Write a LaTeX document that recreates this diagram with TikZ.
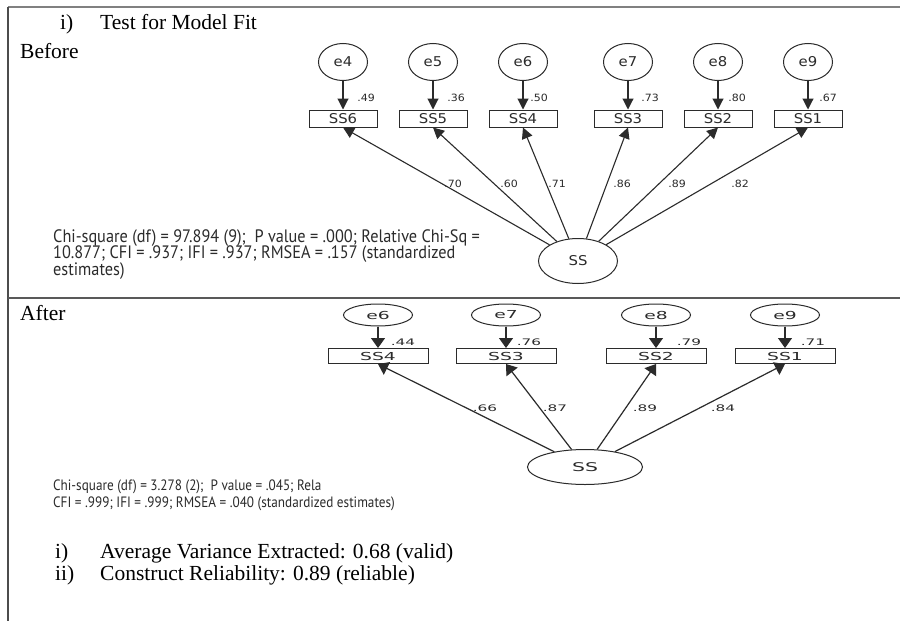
\documentclass[tikz,border=0pt]{standalone}
\usepackage{fontspec}
\setmainfont{Liberation Serif}
\newfontfamily\semfont[FakeStretch=1.1]{DejaVu Sans}
\newfontfamily\semwide[FakeStretch=1.7]{DejaVu Sans}
\newfontfamily\fitfont[FakeStretch=0.905]{PT Sans}
\newfontfamily\fitnarrow[FakeStretch=0.88]{PT Sans}
\usetikzlibrary{arrows.meta,shapes.geometric}
\definecolor{ink}{HTML}{2B2B2B}
\definecolor{rule}{HTML}{808080}
\begin{document}
\begin{tikzpicture}[x=1pt,y=-1pt,
  heading/.style={anchor=base west,inner sep=0pt,font=\fontsize{21.5}{24}\selectfont,text=black},
  fitline/.style={anchor=base west,inner sep=0pt,font=\fitfont\fontsize{18}{18}\selectfont,text=ink},
  fitsmall/.style={anchor=base west,inner sep=0pt,font=\fitnarrow\fontsize{15}{15}\selectfont,text=ink},
  errB/.style={ellipse,draw=ink,line width=1pt,minimum width=49pt,minimum height=37pt,inner sep=0pt,
    font=\semfont\fontsize{13.5}{14}\selectfont,text=ink},
  obsB/.style={rectangle,draw=ink,line width=1pt,minimum width=68pt,minimum height=17pt,inner sep=0pt,
    font=\semfont\fontsize{13.5}{14}\selectfont,text=ink},
  latB/.style={ellipse,draw=ink,line width=1pt,minimum width=79pt,minimum height=45pt,inner sep=0pt,
    font=\semfont\fontsize{13.5}{14}\selectfont,text=ink},
  wtB/.style={inner sep=0pt,font=\semfont\fontsize{10}{10}\selectfont,text=ink},
  pathB/.style={draw=ink,line width=1.1pt,-{Triangle[length=11pt,width=11pt]}},
  errA/.style={ellipse,draw=ink,line width=1pt,minimum width=69pt,minimum height=22pt,inner sep=0pt,
    font=\semwide\fontsize{11}{11}\selectfont,text=ink},
  obsA/.style={rectangle,draw=ink,line width=1pt,minimum width=100pt,minimum height=15pt,inner sep=0pt,
    font=\semwide\fontsize{11}{11}\selectfont,text=ink},
  latA/.style={ellipse,draw=ink,line width=1pt,minimum width=115pt,minimum height=35pt,inner sep=0pt,
    font=\semwide\fontsize{12}{12}\selectfont,text=ink},
  wtA/.style={inner sep=0pt,font=\semwide\fontsize{9}{9}\selectfont,text=ink},
  pathA/.style={draw=ink,line width=1.2pt,-{Triangle[length=10pt,width=14pt]}}
]
\useasboundingbox (0,0) rectangle (900,621);
\fill[white] (0,0) rectangle (900,621);

% frame
\coordinate (tl) at (8,7);
\coordinate (tr) at (900,7);
\coordinate (bl) at (8,621);
\coordinate (ml) at (8,298);
\coordinate (mr) at (900,298);
\draw[rule,line width=1.6pt] (tl) -- (tr);
\draw[black!70,line width=1.2pt] (tl) -- (bl);
\draw[black!65,line width=1.6pt] (ml) -- (mr);

% headings
\node[heading] (hnum) at (60,29) {i)};
\node[heading] (htitle) at (100,29) {Test for Model Fit};
\node[heading] (hbefore) at (20,58) {Before};
\node[heading] (hafter) at (20,320) {After};

% ---- model before re-specification ----
\foreach \e/\s/\x in {e4/SS6/343,e5/SS5/433,e6/SS4/523,e7/SS3/628,e8/SS2/718,e9/SS1/808}{
  \node[errB] (b\e) at (\x,62) {\e};
  \node[obsB] (b\s) at (\x,118.5) {\s};
  \draw[pathB] (b\e) -- (b\s);
}
\node[latB] (bSS) at (578,261) {SS};
\foreach \s in {SS6,SS5,SS4,SS3,SS2,SS1}{
  \draw[pathB] (bSS) -- (b\s.south);
}
% squared multiple correlations
\node[wtB] (br6) at (366,98) {.49};
\node[wtB] (br5) at (456,98) {.36};
\node[wtB] (br4) at (539,98) {.50};
\node[wtB] (br3) at (650,98) {.73};
\node[wtB] (br2) at (737,98) {.80};
\node[wtB] (br1) at (828,98) {.67};
% loadings
\node[wtB] (bl6) at (453,184) {.70};
\node[wtB] (bl5) at (509,184) {.60};
\node[wtB] (bl4) at (557,184) {.71};
\node[wtB] (bl3) at (622,184) {.86};
\node[wtB] (bl2) at (677,184) {.89};
\node[wtB] (bl1) at (740,184) {.82};
% fit indices
\node[fitline] (bfit1) at (53,242) {Chi-square (df) = 97.894 (9);\ \ P value = .000; Relative Chi-Sq =};
\node[fitline] (bfit2) at (53,258.5) {10.877; CFI = .937; IFI = .937; RMSEA = .157 (standardized};
\node[fitline] (bfit3) at (53,275) {estimates)};

% ---- model after re-specification ----
\foreach \e/\s/\x in {e6/SS4/378,e7/SS3/506,e8/SS2/656,e9/SS1/785}{
  \node[errA] (a\e) at (\x,315) {\e};
  \node[obsA] (a\s) at (\x,356) {\s};
  \draw[pathA] (a\e) -- (a\s);
}
\node[latA] (aSS) at (585,467) {SS};
\foreach \s in {SS4,SS3,SS2,SS1}{
  \draw[pathA] (aSS) -- (a\s.south);
}
\node[wtA] (ar4) at (403,342) {.44};
\node[wtA] (ar3) at (529,342) {.76};
\node[wtA] (ar2) at (689,342) {.79};
\node[wtA] (ar1) at (813,342) {.71};
\node[wtA] (al4) at (485,408) {.66};
\node[wtA] (al3) at (555,408) {.87};
\node[wtA] (al2) at (645,408) {.89};
\node[wtA] (al1) at (723,408) {.84};
\node[fitsmall] (afit1) at (53,490) {Chi-square (df) = 3.278 (2);\ \ P value = .045; Rela};
\node[fitsmall] (afit2) at (53,507) {CFI = .999; IFI = .999; RMSEA = .040 (standardized estimates)};

% validity summary
\node[heading] (vnum1) at (55,558) {i)};
\node[heading] (vtext1) at (100,558) {Average Variance Extracted: 0.68 (valid)};
\node[heading] (vnum2) at (55,580) {ii)};
\node[heading] (vtext2) at (100,580) {Construct Reliability: 0.89 (reliable)};
\end{tikzpicture}
\end{document}
